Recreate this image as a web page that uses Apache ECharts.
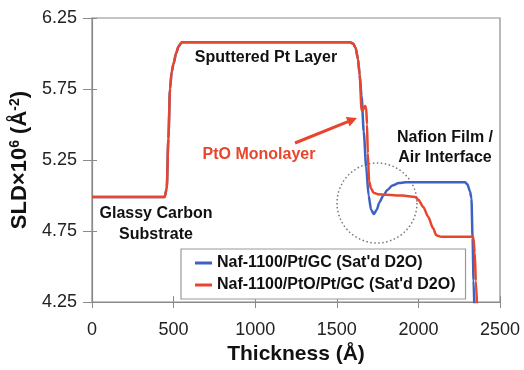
<!DOCTYPE html>
<html>
<head>
<meta charset="utf-8">
<script src="https://cdn.jsdelivr.net/npm/echarts@6/dist/echarts.min.js"></script>
<style>html,body{margin:0;padding:0;background:#fff;}#c{width:524px;height:370px;}</style>
</head>
<body>
<div id="c"></div>
<script>
// Thickness (Å) and SLD×10^6 (Å^-2)
const ptThickness = [0, 445, 458, 468, 478, 488, 500, 515, 530, 550, 1580, 1600, 1615, 1630, 1640, 1652, 1665, 1680, 1695, 1710, 1727, 1745, 1760, 1785, 1810, 1840, 1880, 1920, 2286, 2300, 2316, 2325, 2332, 2338, 2343];
const ptSLD       = [4.99, 4.99, 5.05, 5.40, 5.75, 5.87, 5.93, 6.00, 6.05, 6.08, 6.08, 6.07, 6.04, 5.96, 5.85, 5.70, 5.45, 5.20, 5.00, 4.90, 4.87, 4.90, 4.95, 5.00, 5.04, 5.07, 5.088, 5.093, 5.093, 5.08, 5.03, 4.98, 4.70, 4.40, 4.20];

const ptoThickness = [0, 445, 458, 468, 478, 488, 500, 515, 530, 550, 1580, 1600, 1615, 1630, 1640, 1652, 1660, 1672, 1680, 1685, 1690, 1698, 1710, 1725, 1750, 1800, 1900, 1980, 2000, 2030, 2060, 2090, 2110, 2140, 2336, 2345, 2352, 2360];
const ptoSLD       = [4.99, 4.99, 5.05, 5.40, 5.75, 5.87, 5.93, 6.00, 6.05, 6.08, 6.08, 6.07, 6.04, 5.96, 5.85, 5.60, 5.60, 5.63, 5.62, 5.50, 5.30, 5.10, 5.05, 5.02, 5.01, 5.005, 5.00, 4.99, 4.97, 4.92, 4.85, 4.77, 4.72, 4.71, 4.71, 4.60, 4.40, 4.20];

const seriesNames = ["Naf-1100/Pt/GC (Sat'd D2O)", "Naf-1100/PtO/Pt/GC (Sat'd D2O)"];
const xTicks = [0, 500, 1000, 1500, 2000, 2500];
const yTicks = [4.25, 4.75, 5.25, 5.75, 6.25];

const FONT = '"Liberation Sans", Arial, Helvetica, sans-serif';
const RED = '#e8462c';
const BLUE = '#3f62c2';

function pairs(xs, ys) { return xs.map((x, i) => [x, ys[i]]); }

const chart = echarts.init(document.getElementById('c'));
const common = { min: xTicks[0], max: xTicks[xTicks.length - 1], interval: xTicks[1] - xTicks[0] };
const commonY = { min: yTicks[0], max: yTicks[yTicks.length - 1], interval: yTicks[1] - yTicks[0] };

chart.setOption({
  animation: false,
  backgroundColor: '#fff',
  grid: { left: 92, right: 24, top: 18, bottom: 62, show: true, borderColor: '#8a8a8a', borderWidth: 1.2 },
  xAxis: [
    Object.assign({
      type: 'value', position: 'bottom',
      name: 'Thickness (Å)', nameLocation: 'middle', nameGap: 41,
      nameTextStyle: { fontFamily: FONT, fontWeight: 'bold', fontSize: 21, color: '#111' },
      axisLine: { lineStyle: { color: '#8a8a8a', width: 1.2 } },
      axisTick: { show: true, inside: false, length: 6, lineStyle: { color: '#8a8a8a' } },
      axisLabel: { fontFamily: FONT, fontSize: 18, color: '#222', margin: 19, formatter: v => String(v) },
      splitLine: { show: false }
    }, common),
    Object.assign({
      type: 'value', position: 'bottom',
      axisLine: { show: false },
      axisTick: { show: true, inside: true, length: 6, lineStyle: { color: '#8a8a8a' } },
      axisLabel: { show: false }, splitLine: { show: false }
    }, common)
  ],
  yAxis: [
    Object.assign({
      type: 'value', position: 'left',
      name: 'SLD×10{sup|6} (Å{sup|-2})', nameLocation: 'middle', nameGap: 56, nameRotate: 90,
      nameTextStyle: { fontFamily: FONT, fontWeight: 'bold', fontSize: 22, color: '#111',
        rich: { sup: { fontFamily: FONT, fontWeight: 'bold', fontSize: 14, color: '#111', verticalAlign: 'top', padding: [0, 0, 9, 0] } } },
      axisLine: { show: true, lineStyle: { color: '#8a8a8a', width: 1.2 } },
      axisTick: { show: true, inside: false, length: 9, lineStyle: { color: '#8a8a8a' } },
      axisLabel: { fontFamily: FONT, fontSize: 18, color: '#222', margin: 15, formatter: v => v.toFixed(2) },
      splitLine: { show: false }
    }, commonY),
    Object.assign({
      type: 'value', position: 'left',
      axisLine: { show: false },
      axisTick: { show: true, inside: true, length: 5, lineStyle: { color: '#8a8a8a' } },
      axisLabel: { show: false }, splitLine: { show: false }
    }, commonY)
  ],
  legend: {
    orient: 'vertical', left: 181, top: 249,
    padding: [6, 10, 6, 14], itemGap: 6,
    backgroundColor: '#fff', borderColor: '#999', borderWidth: 1.2,
    icon: 'rect', itemWidth: 17, itemHeight: 3,
    textStyle: { fontFamily: FONT, fontWeight: 'bold', fontSize: 16, color: '#111' },
    data: seriesNames
  },
  series: [
    { name: seriesNames[0], type: 'line', data: pairs(ptThickness, ptSLD), showSymbol: false, symbol: 'none',
      smooth: 0.25, smoothMonotone: 'x', lineStyle: { color: BLUE, width: 2.5 }, itemStyle: { color: BLUE }, z: 2 },
    { name: seriesNames[1], type: 'line', data: pairs(ptoThickness, ptoSLD), showSymbol: false, symbol: 'none',
      smooth: 0.25, smoothMonotone: 'x', lineStyle: { color: RED, width: 2.5 }, itemStyle: { color: RED }, z: 3 }
  ],
  graphic: [
    { type: 'text', style: { text: 'Sputtered Pt Layer', x: 266, y: 58, align: 'center', verticalAlign: 'middle', font: 'bold 16px ' + FONT, fill: '#111' } },
    { type: 'text', style: { text: 'PtO Monolayer', x: 259, y: 155, align: 'center', verticalAlign: 'middle', font: 'bold 16px ' + FONT, fill: RED } },
    { type: 'text', style: { text: 'Nafion Film /', x: 445, y: 138, align: 'center', verticalAlign: 'middle', font: 'bold 16px ' + FONT, fill: '#111' } },
    { type: 'text', style: { text: 'Air Interface', x: 445, y: 158, align: 'center', verticalAlign: 'middle', font: 'bold 16px ' + FONT, fill: '#111' } },
    { type: 'text', style: { text: 'Glassy Carbon', x: 156, y: 214, align: 'center', verticalAlign: 'middle', font: 'bold 16px ' + FONT, fill: '#111' } },
    { type: 'text', style: { text: 'Substrate', x: 156, y: 235, align: 'center', verticalAlign: 'middle', font: 'bold 16px ' + FONT, fill: '#111' } },
    { type: 'line', shape: { x1: 295, y1: 143, x2: 348, y2: 121.7 }, style: { stroke: RED, lineWidth: 3 }, z: 10 },
    { type: 'polygon', shape: { points: [[357, 118], [349.6, 126.4], [345.8, 117.1]] }, style: { fill: RED }, z: 10 },
    { type: 'circle', shape: { cx: 377, cy: 203, r: 40 }, style: { fill: 'none', stroke: '#777', lineWidth: 1.5, lineDash: [1.5, 2.5] }, z: 1 }
  ]
});
</script>
</body>
</html>
